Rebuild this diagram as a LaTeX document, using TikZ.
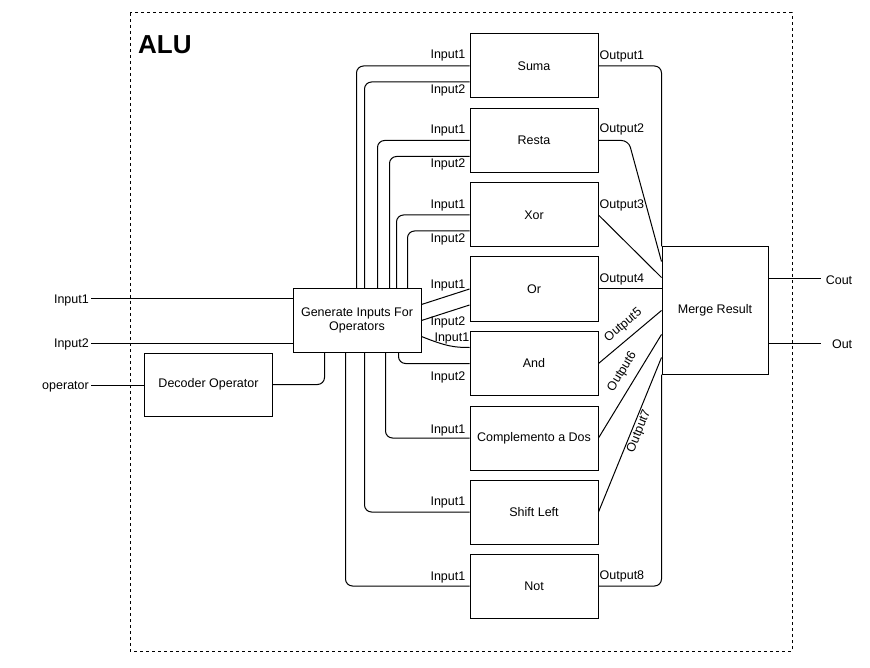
\documentclass[tikz,border=0pt]{standalone}
\usepackage{fontspec}
\setmainfont{Liberation Sans}
\usetikzlibrary{calc}

\tikzset{
  block/.style={draw, line width=1pt, minimum width=128pt, minimum height=64pt, inner sep=2pt, align=center},
  port/.style={inner sep=1pt, yshift=-1.5pt, font=\fontsize{12.5}{14.5}\selectfont},
  wire/.style={line width=1pt, rounded corners=7pt},
}

\begin{document}
\begin{tikzpicture}[x=1pt, y=-1pt, font=\fontsize{12.5}{14.5}\selectfont]
  \useasboundingbox (0,0) rectangle (870,668);
  \draw [dash pattern=on 3pt off 3pt, line width=1pt] (130,13) rectangle (792,651);
  \node (alu) at (138,54) [anchor=base west, inner sep=0pt, font=\fontsize{26}{30}\selectfont\bfseries] {ALU};

  \node (gen)   at (357,320.5)   [block, minimum height=63pt] {Generate Inputs For\\Operators};
  \node (dec)   at (208.5,384.5) [block, minimum height=63pt] {Decoder Operator};
  \node (merge) at (715,310.5)   [block, minimum width=106pt, minimum height=127pt] {Merge Result};

  \node (suma)  at (534, 66.0) [block] {Suma};
  \node (resta) at (534,140.5) [block] {Resta};
  \node (xor)   at (534,215.0) [block] {Xor};
  \node (orop)  at (534,289.0) [block] {Or};
  \node (andop) at (534,363.5) [block] {And};
  \node (comp)  at (534,438.0) [block] {Complemento a Dos};
  \node (shift) at (534,512.0) [block] {Shift Left};
  \node (notop) at (534,586.0) [block] {Not};

  % outside ports
  \node (in1)  at (91,299) [port, anchor=east, inner sep=2pt] {Input1};
  \node (in2)  at (91,343) [port, anchor=east, inner sep=2pt] {Input2};
  \node (oper) at (91,385) [port, anchor=east, inner sep=2pt] {operator};
  \node (cout) at (821,279) [port, anchor=west, text width=29pt, align=right, inner sep=2pt] {Cout};
  \node (out)  at (821,343) [port, anchor=west, text width=29pt, align=right, inner sep=2pt] {Out};

  \draw [wire] (in1.east |- 0,299) -- (gen.west |- 0,299);
  \draw [wire] (in2.east |- 0,343) -- (gen.west |- 0,343);
  \draw [wire] (oper.east |- 0,385) -- (dec.west |- 0,385);
  \draw [wire] (dec.east) -| ([xshift=32pt]gen.south west);
  \draw [wire] (merge.east |- 0,279) -- (cout.west |- 0,279);
  \draw [wire] (merge.east |- 0,343) -- (out.west |- 0,343);

  % port labels
  \node (s1) at ([xshift=-3pt,yshift=-21pt]suma.north west)  [port, anchor=east] {Input1};
  \node (s2) at ([xshift=-3pt,yshift=10pt]suma.south west)   [port, anchor=east] {Input2};
  \node (r1) at ([xshift=-3pt,yshift=-21pt]resta.north west) [port, anchor=east] {Input1};
  \node (r2) at ([xshift=-3pt,yshift=10pt]resta.south west)  [port, anchor=east] {Input2};
  \node (x1) at ([xshift=-3pt,yshift=-21pt]xor.north west)   [port, anchor=east] {Input1};
  \node (x2) at ([xshift=-3pt,yshift=10pt]xor.south west)    [port, anchor=east] {Input2};
  \node (o1) at ([xshift=-3pt,yshift=-27pt]orop.north west)  [port, anchor=east] {Input1};
  \node (o2) at ([xshift=-3pt,yshift=1pt]orop.south west)    [port, anchor=east] {Input2};
  \node (a1) at ([xshift=1pt,yshift=-5.5pt]andop.north west) [port, anchor=east] {Input1};
  \node (a2) at ([xshift=-3pt,yshift=20pt]andop.south west)  [port, anchor=east] {Input2};
  \node (c1) at ([xshift=-3pt,yshift=-23pt]comp.north west)  [port, anchor=east] {Input1};
  \node (l1) at ([xshift=-3pt,yshift=-21pt]shift.north west) [port, anchor=east] {Input1};
  \node (n1) at ([xshift=-3pt,yshift=-22pt]notop.north west) [port, anchor=east] {Input1};

  \node (q1) at ([yshift=-21pt]suma.north east)  [port, anchor=west] {Output1};
  \node (q2) at ([yshift=-20pt]resta.north east) [port, anchor=west] {Output2};
  \node (q3) at ([yshift=-21pt]xor.north east)   [port, anchor=west] {Output3};
  \node (q4) at ([yshift=-21pt]orop.north east)  [port, anchor=west] {Output4};
  \node (q8) at ([yshift=-21pt]notop.north east) [port, anchor=west] {Output8};

  % inputs to the operators
  \draw [wire] (suma.west) -| ([xshift=64pt]gen.north west);
  \draw [wire] ([yshift=-16pt]suma.west) -| ([xshift=72pt]gen.north west);
  \draw [wire] (resta.west) -| ([xshift=85pt]gen.north west);
  \draw [wire] ([yshift=-16pt]resta.west) -| ([xshift=97pt]gen.north west);
  \draw [wire] (xor.west) -| ([xshift=104pt]gen.north west);
  \draw [wire] ([yshift=-16pt]xor.west) -| ([xshift=115pt]gen.north west);
  \draw [wire] ([yshift=16pt]gen.east) -- (orop.west);
  \draw [wire] (gen.east) -- ([yshift=-16pt]orop.west);
  \draw [wire] ([yshift=-16pt]gen.east) .. controls +(25,10) and +(-15,0) .. ([yshift=16pt]andop.west);
  \draw [wire] ([xshift=106pt]gen.south west) |- (andop.west);
  \draw [wire] ([xshift=93pt]gen.south west) |- (comp.west);
  \draw [wire] ([xshift=72pt]gen.south west) |- (shift.west);
  \draw [wire] ([xshift=53pt]gen.south west) |- (notop.west);

  % outputs to merge
  \draw [wire] (suma.east) -| (merge.north west);
  \draw [wire] (resta.east) -- ++(30,0) -- ([yshift=-15pt]merge.north west);
  \draw [wire] (xor.east) -- ([yshift=-31pt]merge.north west);
  \draw [wire] (orop.east) -- (orop.east -| merge.west);
  \draw [wire] (andop.east) -- (merge.west) node [port, sloped, pos=0.53, above=7.5pt] {Output5};
  \draw [wire] (comp.east) -- ([yshift=-24pt]merge.west) node [port, sloped, pos=0.57, above=8.5pt] {Output6};
  \draw [wire] (shift.east) -- ([yshift=-47pt]merge.west) node [port, sloped, pos=0.54, below=-1.5pt] {Output7};
  \draw [wire] (notop.east) -| (merge.south west);
\end{tikzpicture}
\end{document}
